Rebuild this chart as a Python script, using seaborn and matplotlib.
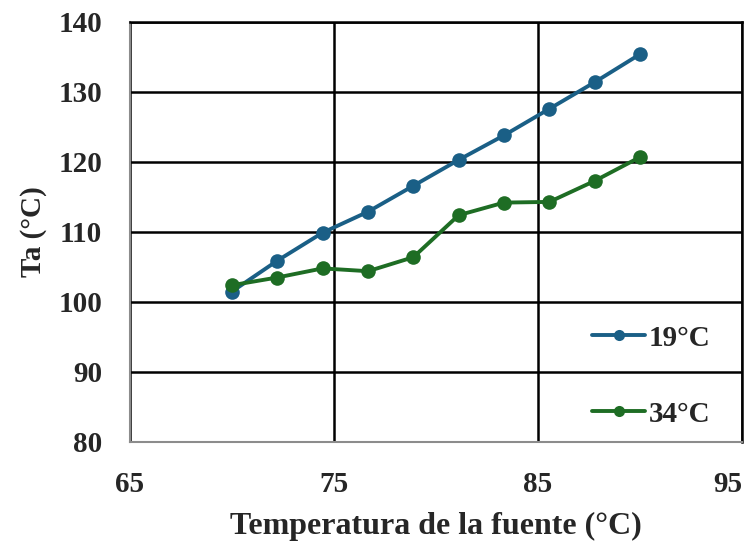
import matplotlib
matplotlib.use("Agg")
import matplotlib.pyplot as plt
import seaborn as sns
import pandas as pd

x_fuente = [70.0, 72.22, 74.44, 76.67, 78.89, 81.11, 83.33, 85.56, 87.78, 90.0]
ta_19 = [101.5, 105.9, 109.9, 112.9, 116.6, 120.3, 123.8, 127.6, 131.4, 135.4]
ta_34 = [102.4, 103.5, 104.8, 104.4, 106.4, 112.4, 114.2, 114.3, 117.3, 120.7]
series_labels = ["19°C", "34°C"]
x_ticks = [65, 75, 85, 95]
y_ticks = [80, 90, 100, 110, 120, 130, 140]

df = pd.DataFrame({
    "x": x_fuente * 2,
    "y": ta_19 + ta_34,
    "serie": [series_labels[0]] * len(x_fuente) + [series_labels[1]] * len(x_fuente),
})

sns.set_style("white")
plt.rcParams["font.family"] = ["Liberation Serif", "DejaVu Serif"]
plt.rcParams["font.weight"] = "bold"

fig = plt.figure(figsize=(7.49, 5.41), dpi=100)
ax = fig.add_axes([130 / 749, 1 - 442 / 541, 612 / 749, 420 / 541])

palette = {"19°C": "#1a5f86", "34°C": "#1e6d24"}
sns.lineplot(data=df, x="x", y="y", hue="serie", palette=palette, marker="o",
             markersize=10.5, markeredgewidth=0, linewidth=2.8, ax=ax, zorder=3)

ax.set_xlim(65, 95)
ax.set_ylim(80, 140)
ax.set_xticks(x_ticks)
ax.set_yticks(y_ticks)
ax.grid(True, color="black", linewidth=1.8, zorder=0)
ax.set_axisbelow(True)
for side in ["left", "bottom"]:
    ax.spines[side].set_color("#8c8c8c")
    ax.spines[side].set_linewidth(1.5)
for side in ["right", "top"]:
    ax.spines[side].set_color("black")
    ax.spines[side].set_linewidth(1.8)

ax.tick_params(axis="x", length=0, labelsize=21, pad=21)
ax.tick_params(axis="y", length=0, labelsize=21, pad=20)
for lab in ax.get_xticklabels() + ax.get_yticklabels():
    lab.set_fontweight("bold")
xl = ax.get_xticklabels()
xl[-1].set_horizontalalignment("right")
ax.set_xlabel("Temperatura de la fuente (°C)", fontsize=23, fontweight="bold", labelpad=10)
ax.set_ylabel("Ta (°C)", fontsize=21, fontweight="bold", labelpad=8)

leg = ax.legend(loc="center left", bbox_to_anchor=((592 - 130) / 612, (442 - 376) / 420),
                frameon=False, fontsize=21, labelspacing=1.68, handlelength=1.82,
                handletextpad=0.12, borderpad=0, borderaxespad=0)
for t in leg.get_texts():
    t.set_fontweight("bold")
for h in leg.legend_handles:
    h.set_markersize(8)

fig.savefig("out.png", dpi=100)
